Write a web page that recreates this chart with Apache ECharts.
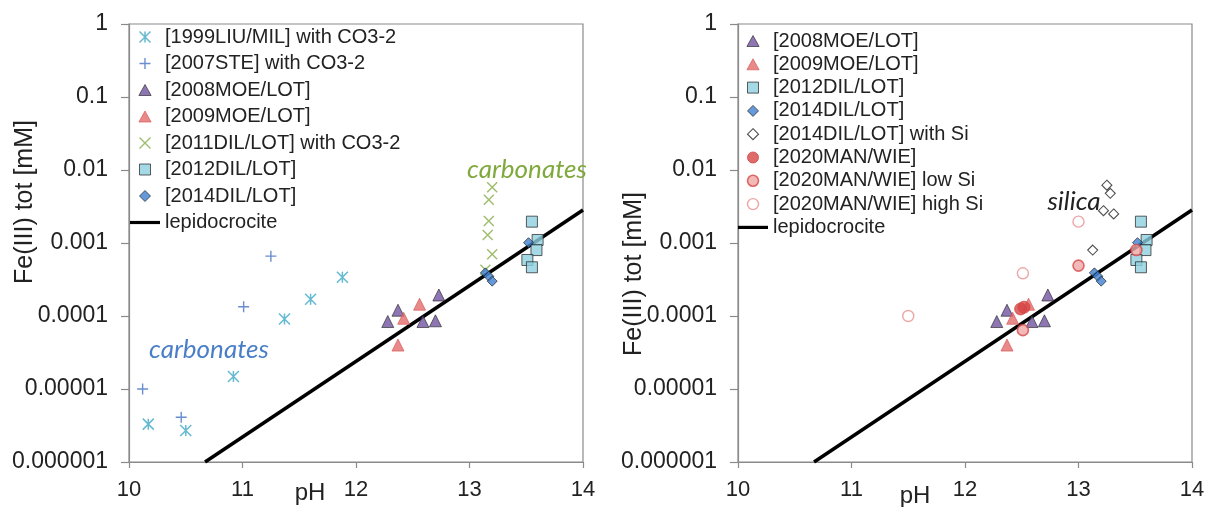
<!DOCTYPE html>
<html>
<head>
<meta charset="utf-8">
<script src="https://cdn.jsdelivr.net/npm/echarts@6/dist/echarts.min.js"></script>
<style>
  html, body { margin: 0; padding: 0; background: #fff; }
  #chart { width: 1207px; height: 507px; }
</style>
</head>
<body>
<div id="chart"></div>
<script>
// pH / Fe(III) tot [mM] pairs
const liuMil1999 = [[10.17, 3.3e-6], [10.50, 2.7e-6], [10.92, 1.48e-5], [11.37, 9.1e-5], [11.60, 1.7e-4], [11.88, 3.4e-4]];
const ste2007 = [[10.12, 1.0e-5], [10.46, 4.1e-6], [11.01, 1.34e-4], [11.25, 6.6e-4]];
const moeLot2008 = [[12.28, 8.4e-5], [12.37, 1.2e-4], [12.59, 8.4e-5], [12.70, 8.6e-5], [12.73, 1.94e-4]];
const moeLot2009 = [[12.37, 4.0e-5], [12.42, 9.3e-5], [12.56, 1.45e-4]];
const dilLot2011 = [[13.20, 5.8e-3], [13.17, 3.9e-3], [13.17, 2.0e-3], [13.16, 1.29e-3], [13.20, 7.0e-4], [13.14, 4.3e-4]];
const dilLot2012 = [[13.55, 1.96e-3], [13.60, 1.1e-3], [13.59, 8.0e-4], [13.51, 5.85e-4], [13.55, 4.65e-4]];
const dilLot2014 = [[13.52, 1.01e-3], [13.14, 3.9e-4], [13.17, 3.5e-4], [13.20, 3.0e-4]];
const dilLot2014Si = [[13.25, 6.2e-3], [13.28, 4.8e-3], [13.22, 2.77e-3], [13.31, 2.5e-3], [13.125, 8.0e-4]];
const manWie2020 = [[12.49, 1.25e-4], [12.52, 1.32e-4]];
const manWie2020LowSi = [[12.51, 6.4e-5], [13.0, 4.9e-4], [13.51, 8.0e-4]];
const manWie2020HighSi = [[11.5, 1.0e-4], [12.51, 3.85e-4], [13.0, 1.96e-3]];
const lepidocrocite = [[10.67, 1.0e-6], [14, 2.83e-3]];

const yTickLabels = ['0.000001', '0.00001', '0.0001', '0.001', '0.01', '0.1', '1'];

const FONT = '"Liberation Sans", Arial, sans-serif';
const TXT = '#222';
const AXIS = '#8a8a8a';

// path symbols keep their aspect in the legend, built-in ones get stretched
const ASTERISK = 'path://M0 0L10 10M10 0L0 10M5 0L5 10';
const PLUS = 'path://M5 0L5 10M0 5L10 5';
const CROSS = 'path://M0 0L10 10M10 0L0 10';
const TRIANGLE = 'path://M5 0L10 9H0Z';
const SQUARE = 'path://M0 0H10V10H0Z';
const DIAMOND = 'path://M5 0L10 5L5 10L0 5Z';
const LINE_ICON = 'path://M0 0H32V3.4H0Z';

const chart = echarts.init(document.getElementById('chart'));

// marker look of each data set, shared by the plot and the legend
const styles = {
  '[1999LIU/MIL] with CO3-2': { symbol: ASTERISK, size: 11, icon: ASTERISK, item: { color: 'none', borderColor: '#3fa8c4', borderWidth: 1.5 } },
  '[2007STE] with CO3-2': { symbol: PLUS, size: 11, icon: PLUS, item: { color: 'none', borderColor: '#4472c4', borderWidth: 1.4 } },
  '[2008MOE/LOT]': { symbol: 'triangle', size: 12, icon: TRIANGLE, item: { color: '#7054a0', borderColor: '#222', borderWidth: 0.8 } },
  '[2009MOE/LOT]': { symbol: 'triangle', size: 12, icon: TRIANGLE, item: { color: '#e36d6d', borderColor: '#d64f4f', borderWidth: 0.8 } },
  '[2011DIL/LOT] with CO3-2': { symbol: CROSS, size: 10, icon: CROSS, item: { color: 'none', borderColor: '#86ad45', borderWidth: 1.4 } },
  '[2012DIL/LOT]': { symbol: 'rect', size: 11, icon: SQUARE, item: { color: '#8fcfe0', borderColor: '#222', borderWidth: 0.9 } },
  '[2014DIL/LOT]': { symbol: 'diamond', size: 10, icon: DIAMOND, item: { color: '#3f7fcf', borderColor: '#222', borderWidth: 0.9 } },
  '[2014DIL/LOT] with Si': { symbol: 'diamond', size: 10, icon: DIAMOND, item: { color: '#fff', borderColor: '#222', borderWidth: 1.1 } },
  '[2020MAN/WIE]': { symbol: 'circle', size: 12, icon: 'circle', item: { color: '#d64545', borderColor: '#d64545', borderWidth: 1 } },
  '[2020MAN/WIE] low Si': { symbol: 'circle', size: 11, icon: 'circle', item: { color: '#f0a8a8', borderColor: '#d64848', borderWidth: 1.6 } },
  '[2020MAN/WIE] high Si': { symbol: 'circle', size: 11, icon: 'circle', item: { color: '#fff', borderColor: '#e89090', borderWidth: 1.4 } }
};

function scatter(name, data, idx) {
  const s = styles[name];
  return {
    name: name, type: 'scatter', xAxisIndex: idx, yAxisIndex: idx,
    data: data, symbol: s.symbol, symbolSize: s.size,
    itemStyle: s.item, z: 3
  };
}

function line(idx) {
  return {
    name: 'lepidocrocite', type: 'line', xAxisIndex: idx, yAxisIndex: idx,
    data: lepidocrocite, symbol: 'none', showSymbol: false,
    itemStyle: { color: '#000' },
    lineStyle: { color: '#000', width: 3.5 }, z: 2
  };
}

function xAxis(idx) {
  return {
    type: 'value', gridIndex: idx, min: 10, max: 14, interval: 1,
    axisLine: { show: true, onZero: false, lineStyle: { color: AXIS, width: 1.2 } },
    axisTick: { show: true, length: 6, lineStyle: { color: AXIS, width: 1.2 } },
    axisLabel: { fontSize: 22, color: TXT, fontFamily: FONT, margin: 17 },
    splitLine: { show: false }
  };
}

function yAxis(idx) {
  return {
    type: 'log', logBase: 10, gridIndex: idx, min: 1e-6, max: 1,
    axisLine: { show: true, onZero: false, lineStyle: { color: AXIS, width: 1.2 } },
    axisTick: { show: true, length: 8, lineStyle: { color: AXIS, width: 1.2 } },
    axisLabel: {
      fontSize: 23, color: TXT, fontFamily: FONT, margin: 21,
      formatter: function (v) { return yTickLabels[Math.round(Math.log10(v)) + 6]; }
    },
    splitLine: { show: false }
  };
}

function legend(left, top, gap, names) {
  return {
    orient: 'vertical', left: left, top: top, itemWidth: 30, itemHeight: 11, itemGap: gap,
    selectedMode: false, padding: 0, symbolKeepAspect: true,
    textStyle: { fontFamily: FONT, fontSize: 20, color: TXT, lineHeight: 22 },
    data: names.map(function (n) {
      if (n === 'lepidocrocite') {
        return { name: n, icon: LINE_ICON, itemStyle: { color: '#000', borderWidth: 0 } };
      }
      const s = styles[n];
      return { name: n, icon: s.icon, itemStyle: s.item };
    })
  };
}

const leftNames = ['[1999LIU/MIL] with CO3-2', '[2007STE] with CO3-2', '[2008MOE/LOT]', '[2009MOE/LOT]',
  '[2011DIL/LOT] with CO3-2', '[2012DIL/LOT]', '[2014DIL/LOT]', 'lepidocrocite'];
const rightNames = ['[2008MOE/LOT]', '[2009MOE/LOT]', '[2012DIL/LOT]', '[2014DIL/LOT]',
  '[2014DIL/LOT] with Si', '[2020MAN/WIE]', '[2020MAN/WIE] low Si', '[2020MAN/WIE] high Si', 'lepidocrocite'];

chart.setOption({
  animation: false,
  backgroundColor: '#fff',
  grid: [
    { left: 129, top: 24, width: 454, height: 438, show: true, borderColor: AXIS, borderWidth: 1.2, outerBoundsMode: 'none' },
    { left: 738, top: 24, width: 454, height: 438, show: true, borderColor: AXIS, borderWidth: 1.2, outerBoundsMode: 'none' }
  ],
  xAxis: [xAxis(0), xAxis(1)],
  yAxis: [yAxis(0), yAxis(1)],
  legend: [legend(130, 26, 4.5, leftNames), legend(738, 30, 1.3, rightNames)],
  series: [
    line(0),
    scatter('[1999LIU/MIL] with CO3-2', liuMil1999, 0),
    scatter('[2007STE] with CO3-2', ste2007, 0),
    scatter('[2008MOE/LOT]', moeLot2008, 0),
    scatter('[2009MOE/LOT]', moeLot2009, 0),
    scatter('[2011DIL/LOT] with CO3-2', dilLot2011, 0),
    scatter('[2012DIL/LOT]', dilLot2012, 0),
    scatter('[2014DIL/LOT]', dilLot2014, 0),
    line(1),
    scatter('[2008MOE/LOT]', moeLot2008, 1),
    scatter('[2009MOE/LOT]', moeLot2009, 1),
    scatter('[2012DIL/LOT]', dilLot2012, 1),
    scatter('[2014DIL/LOT]', dilLot2014, 1),
    scatter('[2014DIL/LOT] with Si', dilLot2014Si, 1),
    scatter('[2020MAN/WIE]', manWie2020, 1),
    scatter('[2020MAN/WIE] low Si', manWie2020LowSi, 1),
    scatter('[2020MAN/WIE] high Si', manWie2020HighSi, 1)
  ],
  graphic: [
    { type: 'text', x: 25, y: 202, rotation: Math.PI / 2,
      style: { text: 'Fe(III) tot [mM]', font: '25px ' + FONT, fill: TXT, align: 'center', verticalAlign: 'middle' } },
    { type: 'text', x: 634, y: 274, rotation: Math.PI / 2,
      style: { text: 'Fe(III) tot [mM]', font: '25px ' + FONT, fill: TXT, align: 'center', verticalAlign: 'middle' } },
    { type: 'text', x: 310, y: 493,
      style: { text: 'pH', font: '24px ' + FONT, fill: TXT, align: 'center', verticalAlign: 'middle' } },
    { type: 'text', x: 915, y: 496,
      style: { text: 'pH', font: '24px ' + FONT, fill: TXT, align: 'center', verticalAlign: 'middle' } },
    { type: 'text', x: 209, y: 350,
      style: { text: 'carbonates', font: 'italic 26px Lato, "Open Sans", sans-serif', fill: '#4a7fc8', align: 'center', verticalAlign: 'middle' } },
    { type: 'text', x: 527, y: 170,
      style: { text: 'carbonates', font: 'italic 26px Lato, "Open Sans", sans-serif', fill: '#7fa83d', align: 'center', verticalAlign: 'middle' } },
    { type: 'text', x: 1074, y: 202,
      style: { text: 'silica', font: 'italic 26px Lato, "Open Sans", sans-serif', fill: TXT, align: 'center', verticalAlign: 'middle' } }
  ]
});
</script>
</body>
</html>
